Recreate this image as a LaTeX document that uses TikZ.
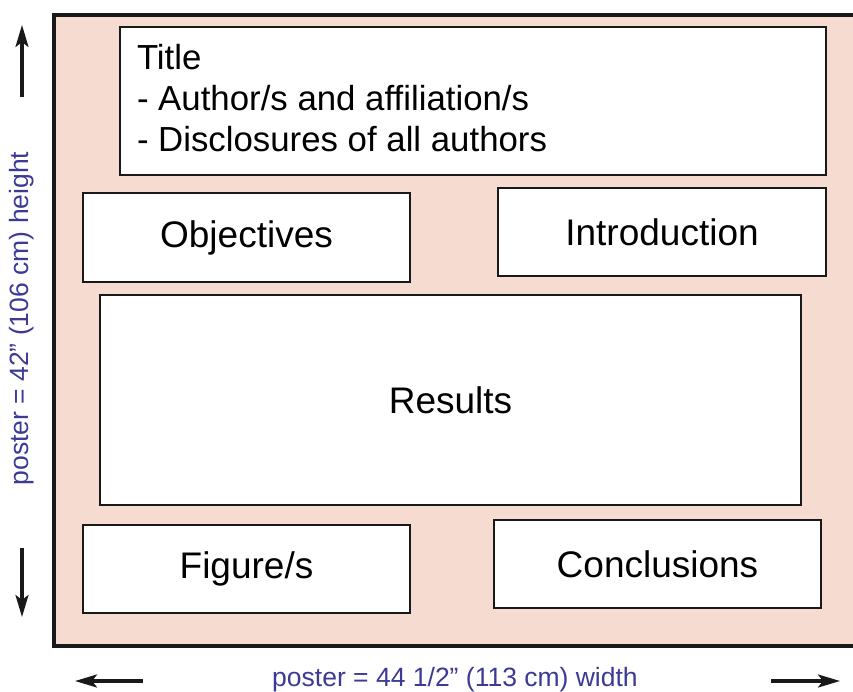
\documentclass[tikz,border=0pt]{standalone}
\usetikzlibrary{arrows.meta}
\usepackage{fontspec}
\setmainfont{Liberation Sans}
\definecolor{posterpink}{HTML}{F6DBD1}
\definecolor{labelblue}{HTML}{3D3A96}
\tikzset{
  section/.style={draw=black!90,line width=1.8pt,fill=white,inner sep=0pt,
    font=\fontsize{37}{41}\selectfont},
  dimlabel/.style={text=labelblue,inner sep=0pt,font=\fontsize{26.5}{30}\selectfont},
  dimarrow/.style={-{Stealth[length=22pt,width=13pt,inset=5pt]},line width=3.2pt,black!90}
}
\begin{document}
\begin{tikzpicture}[x=1pt,y=-1pt]
\useasboundingbox (0,0) rectangle (853,692);
% ---- poster sheet ----
\fill[posterpink] (54,15) rectangle (853,646);
\draw[line width=4pt,black!90] (853,15) -- (54,15) -- (54,646) -- (853,646);
% ---- sections ----
\node[section,minimum width=706pt,minimum height=148pt,
  font=\fontsize{34.8}{41}\selectfont] (title) at (473,101)
  {\raisebox{3pt}[\height][\depth]{\parbox{672pt}{Title\\- Author/s and affiliation/s\\- Disclosures of all authors}}};
\node[section,minimum width=327pt,minimum height=89pt] (obj) at (246.5,237.5) {Objectives};
\node[section,minimum width=328pt,minimum height=88pt] (intro) at (662,232) {Introduction};
\node[section,minimum width=701pt,minimum height=210pt] (res) at (450.5,400) {Results};
\node[section,minimum width=327pt,minimum height=88pt] (fig) at (246.5,569) {Figure/s};
\node[section,minimum width=327pt,minimum height=88pt] (concl) at (657.5,564) {Conclusions};
% ---- dimensions ----
\node[dimlabel,rotate=90] (hlabel) at (22,318.5) {poster = 42” (106 cm) height};
\node[dimlabel] (wlabel) at (455,680) {poster = 44 1/2” (113 cm) width};
\coordinate (up0) at (22,97);   \coordinate (up1) at (22,25);
\coordinate (dn0) at (22,548);  \coordinate (dn1) at (22,617);
\coordinate (lt0) at (143,681); \coordinate (lt1) at (75,681);
\coordinate (rt0) at (771,681); \coordinate (rt1) at (840,681);
\draw[dimarrow] (up0) -- (up1);
\draw[dimarrow] (dn0) -- (dn1);
\draw[dimarrow] (lt0) -- (lt1);
\draw[dimarrow] (rt0) -- (rt1);
\end{tikzpicture}
\end{document}
